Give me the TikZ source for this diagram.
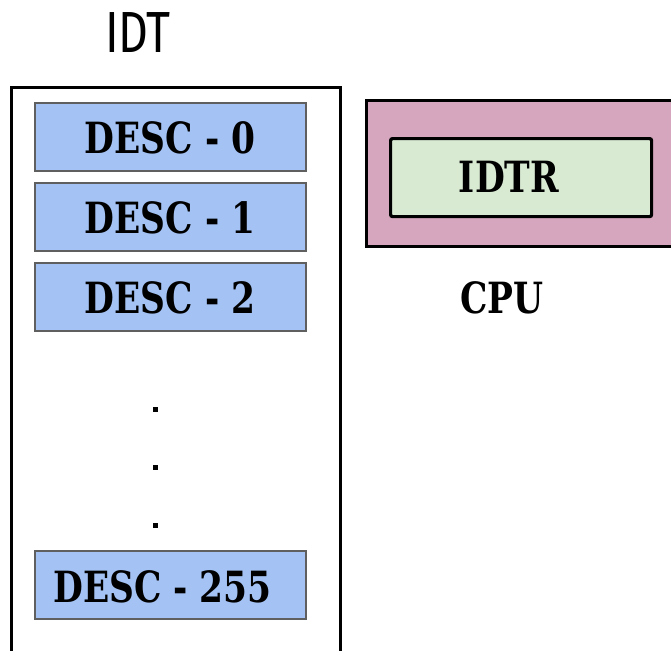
\documentclass[tikz,border=0pt]{standalone}
\usepackage{fontspec}
\newfontfamily\slab{DejaVu Serif}[FakeStretch=0.8]
\newfontfamily\titlefont{Fira Sans}[FakeStretch=0.8]
\definecolor{descblue}{HTML}{A4C2F4}
\definecolor{descedge}{HTML}{5F5F5F}
\definecolor{cpupink}{HTML}{D5A6BD}
\definecolor{regreen}{HTML}{D9EAD3}
\tikzset{
  descbox/.style={draw=descedge, line width=2pt, fill=descblue, anchor=north west,
    minimum width=271pt, minimum height=68pt, inner sep=0pt},
  lbl/.style={anchor=base, inner sep=0pt, font=\slab\bfseries\fontsize{43}{50}\selectfont},
  dotmark/.style={fill=black, minimum size=5pt, inner sep=0pt},
}
\begin{document}
\begin{tikzpicture}[x=1pt,y=-1pt]
\clip (0,0) rectangle (671,650);
\fill[white] (0,0) rectangle (671,650);
% IDT title
\node[anchor=base, inner sep=0pt, font=\titlefont\fontsize{58}{64}\selectfont] (idt) at (138,53) {IDT};
% outer IDT box
\node[draw=black, line width=3.2pt, anchor=north west, minimum width=329pt, minimum height=600pt, inner sep=0pt] (table) at (10,86) {};
% descriptors
\node[descbox] (b0) at (34,102) {};
\node[descbox] (b1) at (34,182) {};
\node[descbox] (b2) at (34,262) {};
\node[descbox] (b255) at (34,550) {};
\node[lbl] (t0) at (170,153) {DESC - 0};
\node[lbl] (t1) at (170,233) {DESC - 1};
\node[lbl] (t2) at (170,313) {DESC - 2};
\node[lbl, anchor=base west] (t255) at (53,602) {DESC - 255};
% dots
\node[dotmark] (d1) at (155,409) {};
\node[dotmark] (d2) at (155,467) {};
\node[dotmark] (d3) at (155,525) {};
% CPU
\node[draw=black, line width=3.2pt, fill=cpupink, anchor=north west, minimum width=330pt, minimum height=146pt, inner sep=0pt] (cpu) at (365,99) {};
\node[draw=black, line width=3.2pt, fill=regreen, rounded corners=2pt, anchor=north west, minimum width=261pt, minimum height=78pt, inner sep=0pt] (idtr) at (389,137) {};
\node[lbl] (idtrt) at (509,192) {IDTR};
\node[lbl] (cput) at (502,313) {CPU};
\end{tikzpicture}
\end{document}
